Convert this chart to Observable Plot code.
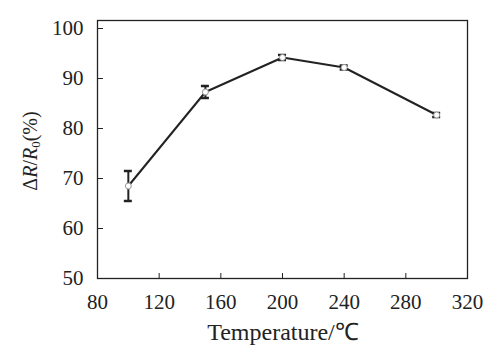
<!DOCTYPE html>
<html><head><meta charset="utf-8">
<script src="https://cdn.jsdelivr.net/npm/d3@7"></script>
<script src="https://cdn.jsdelivr.net/npm/@observablehq/plot@0.6"></script>
<style>body{margin:0;background:#fff;} svg{font-family:'Liberation Serif',serif !important;}</style>
</head><body><div id="chart"></div>
<script>
const temps = [100, 150, 200, 240, 300];
const values = [68.5, 87.3, 94.2, 92.2, 82.7];
const errors = [3.0, 1.2, 0.5, 0.4, 0.4];
const xTicks = [80, 120, 160, 200, 240, 280, 320];
const yTicks = [50, 60, 70, 80, 90, 100];

const data = temps.map((t, i) => ({t, v: values[i], e: errors[i]}));
const lo = d => d.v - d.e, hi = d => d.v + d.e;

const plot = Plot.plot({
  width: 490, height: 356,
  marginLeft: 97, marginRight: 23, marginTop: 20, marginBottom: 78,
  style: {fontFamily: "'Liberation Serif', serif", fontSize: "21px", color: "#222", background: "#fff"},
  x: {type: "linear", domain: [80, 320]},
  y: {type: "linear", domain: [50, 101.6]},
  marks: [
    Plot.frame({stroke: "#222", strokeWidth: 1.3}),
    Plot.axisX(xTicks, {tickSize: -5, tickPadding: 21, fontSize: 21, label: null, stroke: "#222"}),
    Plot.axisY(yTicks, {tickSize: -6, tickPadding: 20, fontSize: 21, label: null, stroke: "#222"}),
    Plot.line(data, {x: "t", y: "v", stroke: "#222", strokeWidth: 2}),
    Plot.ruleX(data, {x: "t", y1: lo, y2: hi, stroke: "#222", strokeWidth: 2}),
    Plot.ruleY(data, {y: lo, x1: "t", x2: "t", insetLeft: -4, insetRight: -4, stroke: "#222", strokeWidth: 2.5}),
    Plot.ruleY(data, {y: hi, x1: "t", x2: "t", insetLeft: -4, insetRight: -4, stroke: "#222", strokeWidth: 2.5}),
    Plot.dot(data, {x: "t", y: "v", r: 3, fill: "#fff", stroke: "#999", strokeWidth: 1})
  ]
});
document.getElementById("chart").appendChild(plot);

const svg = d3.select(plot);
svg.append("text")
  .attr("x", 283).attr("y", 340).attr("text-anchor", "middle")
  .attr("font-size", 24).attr("fill", "#222")
  .text("Temperature/℃");
const yl = svg.append("text")
  .attr("transform", "translate(37,151) rotate(-90)")
  .attr("text-anchor", "middle").attr("font-size", 20).attr("fill", "#222");
yl.append("tspan").text("Δ");
yl.append("tspan").attr("font-style", "italic").text("R");
yl.append("tspan").text("/");
yl.append("tspan").attr("font-style", "italic").text("R");
yl.append("tspan").attr("font-size", 13).attr("dy", 3).text("0");
yl.append("tspan").attr("dy", -3).text("(%)");
</script>
</body></html>
